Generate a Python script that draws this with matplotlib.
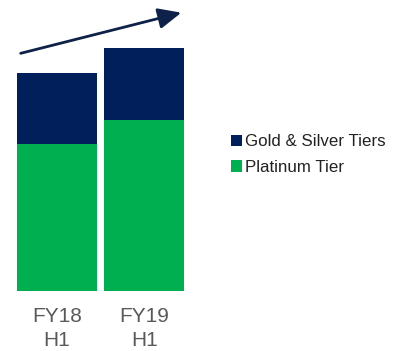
import matplotlib
matplotlib.use("Agg")
import matplotlib.pyplot as plt
import numpy as np

plt.rcParams['font.family'] = ['Liberation Sans', 'DejaVu Sans']

periods = ["FY18\nH1", "FY19\nH1"]
platinum = [147, 171]
gold_silver = [71, 72]

navy = "#001F5B"
green = "#00B050"

W, H = 394, 351
fig = plt.figure(figsize=(W / 100, H / 100), dpi=100)
ax = fig.add_axes([17 / W, 1 - 291 / H, (184 - 17) / W, 291 / H])

x = np.arange(len(periods))
width = 0.914
ax.bar(x, platinum, width, color=green, label="Platinum Tier")
ax.bar(x, gold_silver, width, bottom=platinum, color=navy, label="Gold & Silver Tiers")
ax.set_xlim(-width / 2, 1 + width / 2)
ax.set_ylim(0, 291)
ax.axis("off")

for xi, lab in zip(x, periods):
    ax.text(xi, -16, lab, ha="center", va="top", fontsize=15,
            color="#595959", linespacing=1.3)

# trend arrow
fig.add_artist(matplotlib.patches.FancyArrowPatch(
    (18 / W, 1 - 54 / H), (184 / W, 1 - 12 / H),
    transform=fig.transFigure, arrowstyle="-|>,head_length=1.0,head_width=0.45",
    mutation_scale=14, color="#0D2149", lw=2))

handles, labels = ax.get_legend_handles_labels()
fig.legend(handles[::-1], labels[::-1], loc="center left",
           bbox_to_anchor=(216 / W, 1 - 154.5 / H), frameon=False,
           fontsize=12.2, handlelength=0.65, handleheight=0.65,
           handletextpad=0.15, labelspacing=0.63, labelcolor="#222222")

fig.savefig("out.png", dpi=100)
